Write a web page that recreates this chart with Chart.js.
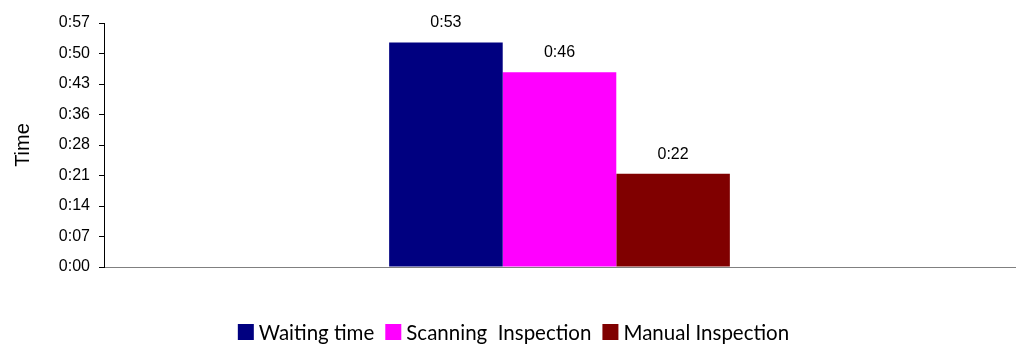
<!DOCTYPE html>
<html>
<head>
<meta charset="utf-8">
<script src="https://cdn.jsdelivr.net/npm/chart.js@4/dist/chart.umd.min.js"></script>
<style>
html,body{margin:0;padding:0;background:#fff;}
canvas{display:block;}
</style>
</head>
<body>
<canvas id="c" width="1018" height="345"></canvas>
<script>
const categories = [''];
const seriesNames = ['Waiting time', 'Scanning  Inspection', 'Manual Inspection'];
const seriesColors = ['#000080', '#FF00FF', '#800000'];
// values in minutes
const waitingTime = [53];
const scanningInspection = [46];
const manualInspection = [22];
const yMax = 57.6;
const yStep = 7.2;

function fmt(min) {
  const m = Math.floor(min + 1e-6);
  const h = Math.floor(m / 60);
  const mm = m % 60;
  return h + ':' + (mm < 10 ? '0' : '') + mm;
}

const seriesData = [waitingTime, scanningInspection, manualInspection];

const labelPlugin = {
  id: 'barLabels',
  afterDatasetsDraw(chart) {
    const ctx = chart.ctx;
    ctx.save();
    ctx.font = '16px "Liberation Sans", Arial, sans-serif';
    ctx.fillStyle = '#000';
    ctx.textAlign = 'center';
    ctx.textBaseline = 'alphabetic';
    chart.data.datasets.forEach((ds, i) => {
      const meta = chart.getDatasetMeta(i);
      meta.data.forEach((bar, j) => {
        ctx.fillText(fmt(ds.data[j]), bar.x, bar.y - 15);
      });
    });
    ctx.restore();
  }
};

const legendPlugin = {
  id: 'customLegend',
  afterDraw(chart) {
    const ctx = chart.ctx;
    ctx.save();
    ctx.font = '20.5px Lato, "Open Sans", sans-serif';
    ctx.textBaseline = 'alphabetic';
    ctx.textAlign = 'left';
    const box = 16, gapText = 5, gapItem = 11;
    const items = chart.data.datasets.map(ds => ({ text: ds.label, color: ds.backgroundColor, w: ctx.measureText(ds.label).width }));
    let total = 0;
    items.forEach((it, i) => { total += box + gapText + it.w + (i < items.length - 1 ? gapItem : 0); });
    let x = 513.5 - total / 2;
    const boxTop = 324, baseline = 340;
    items.forEach(it => {
      ctx.fillStyle = it.color;
      ctx.fillRect(x, boxTop, box, box);
      x += box + gapText;
      ctx.fillStyle = '#000';
      ctx.fillText(it.text, x, baseline);
      x += it.w + gapItem;
    });
    ctx.restore();
  }
};

new Chart(document.getElementById('c'), {
  type: 'bar',
  data: {
    labels: categories,
    datasets: seriesNames.map((n, i) => ({
      label: n,
      data: seriesData[i],
      backgroundColor: seriesColors[i],
      borderWidth: 0,
      categoryPercentage: 0.374,
      barPercentage: 1.0
    }))
  },
  options: {
    responsive: false,
    animation: false,
    layout: { padding: { left: 0, right: 3, top: 23, bottom: 0 } },
    plugins: {
      tooltip: { enabled: false },
      legend: { display: false }
    },
    scales: {
      x: {
        grid: { display: false },
        border: { display: true, color: '#808080', width: 1 },
        ticks: { display: false },
        afterFit(s) { s.height = 78; }
      },
      y: {
        min: 0,
        max: yMax,
        afterBuildTicks(s) {
          const t = [];
          for (let i = 0; i <= 8; i++) t.push({ value: i * yStep });
          s.ticks = t;
        },
        grid: { drawOnChartArea: false, drawTicks: true, tickLength: 5, color: '#000' },
        border: { display: true, color: '#000', width: 1 },
        ticks: {
          color: '#000',
          padding: 9,
          font: { family: '"Liberation Sans", Arial, sans-serif', size: 16 },
          callback: (v) => fmt(v)
        },
        title: {
          display: true,
          text: 'Time',
          color: '#000',
          padding: { top: 11, bottom: 0 },
          font: { family: '"Liberation Sans", Arial, sans-serif', size: 20 }
        },
        afterFit(s) { s.width = 104; }
      }
    }
  },
  plugins: [labelPlugin, legendPlugin]
});
</script>
</body>
</html>
